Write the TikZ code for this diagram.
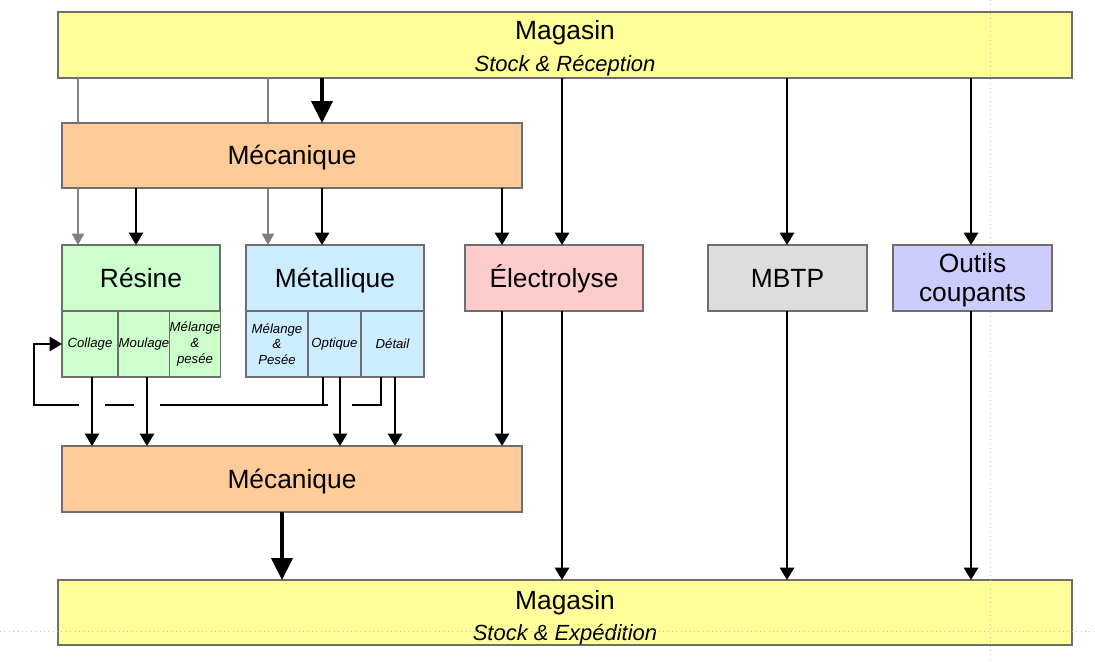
\documentclass[tikz,border=0pt]{standalone}
\usepackage{fontspec}
\setmainfont{Liberation Sans}
\usetikzlibrary{arrows.meta,calc}
\definecolor{cYel}{HTML}{FFFF99}
\definecolor{cOra}{HTML}{FFCC99}
\definecolor{cGre}{HTML}{CCFFCC}
\definecolor{cBlu}{HTML}{CCECFF}
\definecolor{cPin}{HTML}{FFCCCC}
\definecolor{cGry}{HTML}{DDDDDD}
\definecolor{cLav}{HTML}{CCCCFF}
\definecolor{cBrd}{HTML}{6E6E6E}
\definecolor{cArr}{HTML}{808080}
\definecolor{cGuide}{HTML}{C4C4C4}
\begin{document}
\begin{tikzpicture}[x=0.02cm,y=-0.02cm,
 box/.style={draw=cBrd, line width=0.7pt, inner sep=0pt, outer sep=0pt, anchor=center},
 sz/.style 2 args={minimum width=#1*0.02cm, minimum height=#2*0.02cm},
 big/.style={font=\fontsize{15}{17.5}\selectfont, align=center},
 one/.style={text height=10.8pt, text depth=0pt},
 subt/.style={font=\fontsize{12.5}{14}\selectfont\itshape, inner sep=0pt},
 small/.style={font=\fontsize{7.5}{8.9}\selectfont\itshape, align=center},
 arr/.style={draw=black, line width=1.4pt, -{Triangle[width=8pt,length=7pt]}},
 bigarr/.style={draw=black, line width=2.2pt, -{Triangle[width=12pt,length=12.5pt]}},
 garr/.style={draw=cArr, line width=1pt, -{Triangle[width=7pt,length=6.5pt]}},
 gline/.style={draw=cArr, line width=1pt},
 fb/.style={draw=black, line width=1.5pt},
 guide/.style={draw=cGuide, line width=0.5pt, dotted}]
\useasboundingbox (0,0) rectangle (1095,662);

% boxes
\node[box, fill=cYel, sz={1014}{66}] (magTop) at (565,45) {};
\node[big, inner sep=0pt] (magTopT) at ($(magTop.center)+(0,-12)$) {Magasin};
\node[subt] (magTopS) at ($(magTop.center)+(0,21)$) {Stock \& Réception};

\node[box, fill=cOra, sz={460}{65}, big, one] (mec1) at (292,155.5) {Mécanique};

\node[box, fill=cGre, sz={158}{66}, big, one] (resine) at (141,278) {Résine};
\node[box, fill=cGre, sz={56}{66}, small] (collage) at (90,344) {Collage};
\node[box, fill=cGre, sz={52}{66}, small] (moulage) at (144,344) {Moulage};
\node[box, fill=cGre, sz={50}{66}, small] (melR) at (195,344) {Mélange\\\&\\pesée};

\node[box, fill=cBlu, sz={178}{66}, big, one] (metal) at (335,278) {Métallique};
\node[box, fill=cBlu, sz={62}{66}, small] (melM) at (277,344) {Mélange\\\&\\Pesée};
\node[box, fill=cBlu, sz={53}{66}, small] (optique) at (334.5,344) {Optique};
\node[box, fill=cBlu, sz={63}{66}, small] (detail) at (392.5,344) {Détail};

\node[box, fill=cPin, sz={178}{66}, big, one] (electro) at (554,278) {Électrolyse};
\node[box, fill=cGry, sz={159}{66}, big, one] (mbtp) at (787.5,278) {MBTP};
\node[box, fill=cLav, sz={159}{66}] (outils) at (972.5,278) {};
\node[big, inner sep=0pt] (outilsT) at ($(outils.center)+(0,2.5)$) {Outils\\[-1pt]coupants};

\node[box, fill=cOra, sz={460}{66}, big, one] (mec2) at (292,479) {Mécanique};

\node[box, fill=cYel, sz={1014}{65}] (magBot) at (565,612.5) {};
\node[big, inner sep=0pt] (magBotT) at ($(magBot.center)+(0,-9.5)$) {Magasin};
\node[subt] (magBotS) at ($(magBot.center)+(0,22.5)$) {Stock \& Expédition};

% x positions of connectors
\coordinate (xg1) at (78,0);
\coordinate (xg2) at (268,0);
\coordinate (xb1) at (136,0);
\coordinate (xb2) at (322,0);
\coordinate (xe1) at (502,0);
\coordinate (xe2) at (562,0);
\coordinate (xm) at (787,0);
\coordinate (xo) at (971,0);
\coordinate (xbig) at (282,0);
\coordinate (xc) at (92,0);
\coordinate (xmo) at (147,0);
\coordinate (xop) at (340,0);
\coordinate (xde) at (395,0);
\coordinate (lpA) at (323,0);
\coordinate (lpB) at (381,0);
\coordinate (lpL) at (34,0);
\coordinate (lpY) at (0,405);

% connectors from top Magasin
\draw[gline] (xg1|-magTop.south) -- (xg1|-mec1.north);
\draw[gline] (xg2|-magTop.south) -- (xg2|-mec1.north);
\draw[bigarr] (xb2|-magTop.south) -- (xb2|-mec1.north);
\draw[arr] (xe2|-magTop.south) -- (xe2|-electro.north);
\draw[arr] (xm|-magTop.south) -- (xm|-mbtp.north);
\draw[arr] (xo|-magTop.south) -- (xo|-outils.north);

% connectors from Mecanique 1
\draw[garr] (xg1|-mec1.south) -- (xg1|-resine.north);
\draw[garr] (xg2|-mec1.south) -- (xg2|-metal.north);
\draw[arr] (xb1|-mec1.south) -- (xb1|-resine.north);
\draw[arr] (xb2|-mec1.south) -- (xb2|-metal.north);
\draw[arr] (xe1|-mec1.south) -- (xe1|-electro.north);

% down to Mecanique 2 / Magasin
\draw[arr] (xc|-collage.south) -- (xc|-mec2.north);
\draw[arr] (xmo|-moulage.south) -- (xmo|-mec2.north);
\draw[arr] (xop|-optique.south) -- (xop|-mec2.north);
\draw[arr] (xde|-detail.south) -- (xde|-mec2.north);
\draw[arr] (xe1|-electro.south) -- (xe1|-mec2.north);
\draw[arr] (xe2|-electro.south) -- (xe2|-magBot.north);
\draw[arr] (xm|-mbtp.south) -- (xm|-magBot.north);
\draw[arr] (xo|-outils.south) -- (xo|-magBot.north);
\draw[bigarr] (xbig|-mec2.south) -- (xbig|-magBot.north);

% feedback loop
\draw[fb] (lpA|-optique.south) |- ($(xop|-lpY)+(-12,0)$);
\draw[fb] ($(xop|-lpY)+(12,0)$) -| (lpB|-detail.south);
\draw[fb] (lpA|-lpY) -- ($(xmo|-lpY)+(13,0)$);
\draw[fb] ($(xmo|-lpY)+(-13,0)$) -- ($(xc|-lpY)+(13,0)$);
\draw[fb, -{Triangle[width=8pt,length=7pt]}] ($(xc|-lpY)+(-13,0)$) -- (lpL|-lpY) |- (collage.west);

% guides
\draw[guide] (990,0) -- (990,662);
\draw[guide] (0,631) -- (1095,631);
\end{tikzpicture}
\end{document}
